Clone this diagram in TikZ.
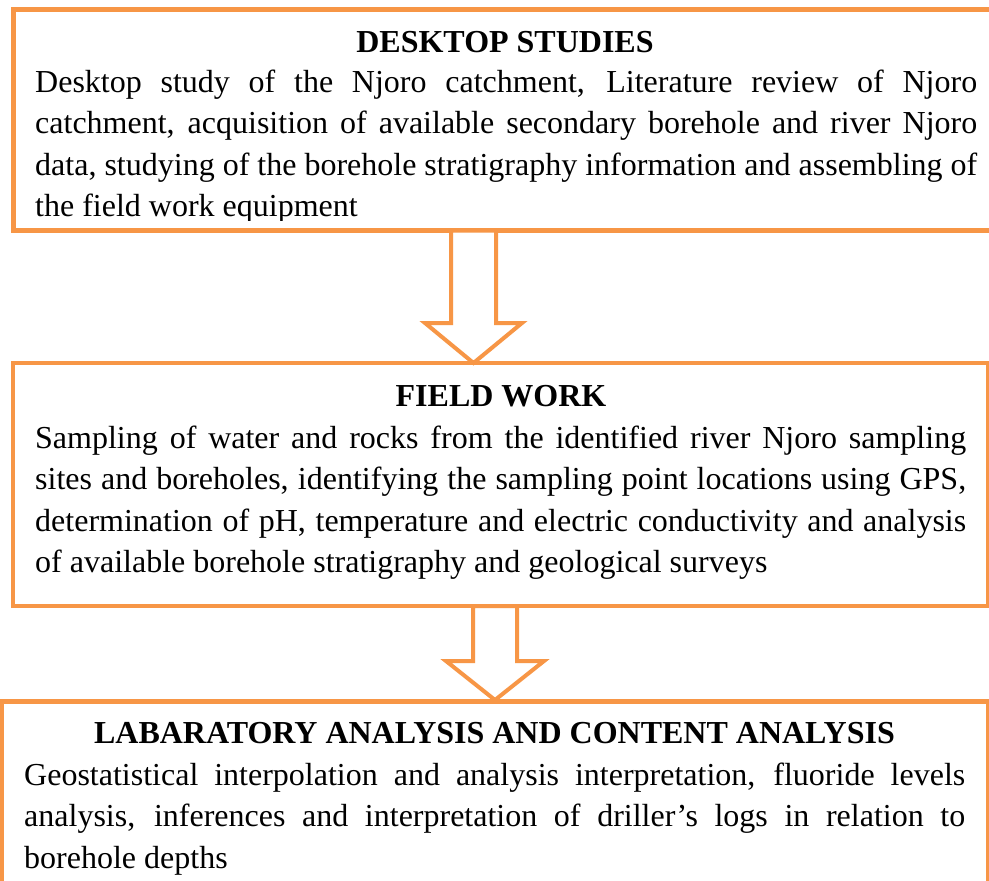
\documentclass[tikz,border=0pt]{standalone}
\usepackage{fontspec}
\setmainfont{Liberation Serif}
\definecolor{flowline}{RGB}{247,150,70}
\begin{document}
\begin{tikzpicture}[x=1pt,y=-1pt,
  panel/.style={draw=flowline, line width=4.5pt, fill=white, inner sep=0pt, outer sep=0pt},
  heading/.style={anchor=base, inner sep=0pt, font=\fontsize{32}{38}\selectfont\bfseries},
  bodyline/.style={anchor=base west, inner sep=0pt, font=\fontsize{32}{38}\selectfont},
  blockarrow/.style={draw=flowline, line width=4pt, fill=white, line join=miter}]
\useasboundingbox (0,0) rectangle (989,881);
\clip (0,0) rectangle (989,881);

% the three stage boxes (the first and last run past the page edge)
\node[panel, minimum width=979.5pt, minimum height=221pt] (desk) at (503.25,120) {};
\node[panel, minimum width=975pt, minimum height=243pt] (field) at (500.5,484.5) {};
\node[panel, minimum width=986.5pt, minimum height=193.5pt] (lab) at (494.75,798.25) {};

% hollow block arrows between the stages
\coordinate (a1base) at (473.5,230.5);
\coordinate (a1tip) at (473.5,363);
\draw[blockarrow] (a1base) ++(-22.5,0) -- ++(0,92.5) -- ++(-26,0) -- (a1tip)
  -- ++(48.5,-40) -- ++(-26,0) -- ++(0,-92.5) -- cycle;
\coordinate (a2base) at (495,606);
\coordinate (a2tip) at (495,700);
\draw[blockarrow] (a2base) ++(-22,0) -- ++(0,55) -- ++(-27,0) -- (a2tip)
  -- ++(49,-39) -- ++(-27,0) -- ++(0,-55) -- cycle;

% desktop studies (text box cuts the last line's descenders)
\begin{scope}
\clip (0,0) rectangle (989,220.5);
\node[heading] (desk-title) at (505,52) {DESKTOP STUDIES};
\node[bodyline] (desk-l1) at (35,92) {\makebox[942pt][s]{Desktop study of the Njoro catchment, Literature review of Njoro}};
\node[bodyline] (desk-l2) at (35,133.5) {\makebox[942pt][s]{catchment, acquisition of available secondary borehole and river Njoro}};
\node[bodyline] (desk-l3) at (35,175) {\makebox[942pt][s]{data, studying of the borehole stratigraphy information and assembling of}};
\node[bodyline] (desk-l4) at (35,216.5) {the field work equipment};
\end{scope}

% field work
\node[heading] (field-title) at (501,406) {FIELD WORK};
\node[bodyline] (field-l1) at (35,448) {\makebox[931pt][s]{Sampling of water and rocks from the identified river Njoro sampling}};
\node[bodyline] (field-l2) at (35,489.5) {\makebox[931pt][s]{sites and boreholes, identifying the sampling point locations using GPS,}};
\node[bodyline] (field-l3) at (35,531) {\makebox[931pt][s]{determination of pH, temperature and electric conductivity and analysis}};
\node[bodyline] (field-l4) at (35,572.5) {of available borehole stratigraphy and geological surveys};

% laboratory and content analysis
\node[heading] (lab-title) at (494.5,743) {LABARATORY ANALYSIS AND CONTENT ANALYSIS};
\node[bodyline] (lab-l1) at (24,785) {\makebox[941pt][s]{Geostatistical interpolation and analysis interpretation, fluoride levels}};
\node[bodyline] (lab-l2) at (24,826.5) {\makebox[941pt][s]{analysis, inferences and interpretation of driller’s logs in relation to}};
\node[bodyline] (lab-l3) at (24,868) {borehole depths};
\end{tikzpicture}
\end{document}
